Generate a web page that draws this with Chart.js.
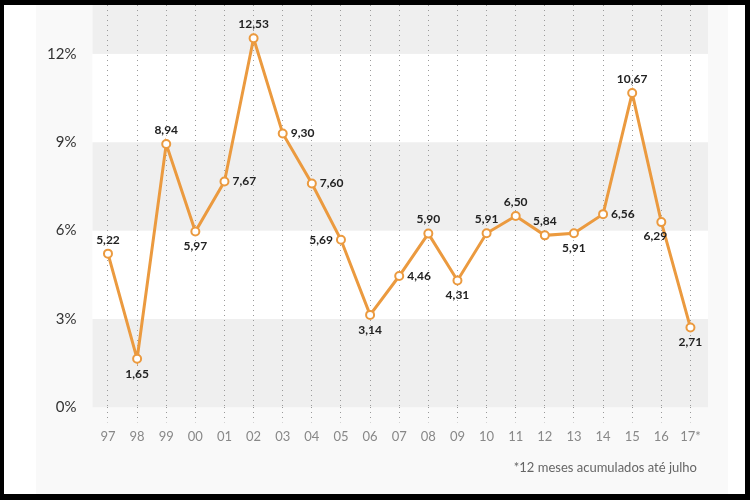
<!DOCTYPE html>
<html>
<head>
<meta charset="utf-8">
<script src="https://cdn.jsdelivr.net/npm/chart.js@4/dist/chart.umd.min.js"></script>
<style>
  body { margin: 0; background: #000; width: 750px; height: 500px; overflow: hidden; }
  #frame {
    position: absolute; left: 4px; top: 5px; width: 741px; height: 489px;
    background: linear-gradient(to right, #fff 0, #fff 32px, #f9f9f9 32px, #f9f9f9 724px, #fff 724px);
  }
  #myChart { position: absolute; left: 0; top: 0; }
  #note {
    position: absolute; right: 48px; top: 454px;
    font-family: Lato, sans-serif; font-size: 13px; color: #666;
  }
</style>
</head>
<body>
<div id="frame">
  <canvas id="myChart" width="741" height="489"></canvas>
  <div id="note">*12 meses acumulados até julho</div>
</div>
<script>
// anos (eixo x)
const years = ['97','98','99','00','01','02','03','04','05','06','07','08','09','10','11','12','13','14','15','16','17*']
// inflação anual, %
const ipca = [5.22,1.65,8.94,5.97,7.67,12.53,9.30,7.60,5.69,3.14,4.46,5.90,4.31,5.91,6.50,5.84,5.91,6.56,10.67,6.29,2.71]
// ticks do eixo y
const yTicks = [0,3,6,9,12]
// onde cada rotulo fica em relacao ao ponto
const labelPos = ['top','bottom','top','bottom','right','top','right','right','left','bottom','right','top','bottom','top','top','top','bottom','right','top','bottomleft','bottom']

const orange = '#eb9a3f'

// faixas cinzas alternadas (0-3, 6-9, 12-topo)
const bandsPlugin = {
    id: 'bands',
    beforeDraw(chart) {
        const {ctx, chartArea, scales} = chart
        const y = scales.y
        const left = chartArea.left - 1
        const w = chartArea.right + 3 - left
        ctx.save()
        ctx.fillStyle = '#ffffff'
        ctx.fillRect(left, chartArea.top, w, chartArea.bottom - chartArea.top)
        ctx.fillStyle = '#efefef'
        for (let i = 0; i < yTicks.length; i += 2) {
            const lo = yTicks[i]
            const hi = i + 1 < yTicks.length ? yTicks[i + 1] : y.max
            const top = y.getPixelForValue(hi)
            const bot = y.getPixelForValue(lo)
            ctx.fillRect(left, top, w, bot - top)
        }
        ctx.restore()
    }
}

// rotulos de valor com virgula decimal
const labelsPlugin = {
    id: 'valueLabels',
    afterDatasetsDraw(chart) {
        const {ctx} = chart
        const meta = chart.getDatasetMeta(0)
        ctx.save()
        ctx.font = 'bold 12px Lato, sans-serif'
        ctx.fillStyle = '#222'
        ctx.textBaseline = 'middle'
        meta.data.forEach((pt, i) => {
            const txt = ipca[i].toFixed(2).replace('.', ',')
            const pos = labelPos[i]
            let x = pt.x, yy = pt.y
            ctx.textAlign = 'center'
            if (pos === 'top') yy -= 14
            else if (pos === 'bottom') yy += 15
            else if (pos === 'right') { x += 8; ctx.textAlign = 'left' }
            else if (pos === 'left') { x -= 8; ctx.textAlign = 'right' }
            else if (pos === 'bottomleft') { x -= 6; yy += 14 }
            ctx.fillText(txt, x, yy)
        })
        ctx.restore()
    }
}

const ctx = document.getElementById('myChart').getContext('2d')
const myChart = new Chart(ctx, {
    type: 'line',
    data: {
        labels: years,
        datasets: [{
            data: ipca,
            borderColor: orange,
            borderWidth: 3,
            pointRadius: 4,
            pointBorderWidth: 2,
            pointBackgroundColor: '#fff',
            pointBorderColor: orange,
            tension: 0
        }]
    },
    options: {
        responsive: false,
        animation: false,
        devicePixelRatio: 1,
        layout: { autoPadding: false, padding: { left: 26, right: 40, top: 0, bottom: 42 } },
        plugins: { legend: { display: false }, tooltip: { enabled: false } },
        scales: {
            x: {
                offset: true,
                border: { display: false, dash: [1, 4] },
                grid: {
                    offset: false,
                    color: '#9a9a9a',
                    tickColor: '#9a9a9a',
                    tickBorderDash: [1, 4],
                    tickLength: 15,
                    lineWidth: 1
                },
                ticks: {
                    autoSkip: false,
                    maxRotation: 0,
                    padding: 7,
                    color: '#888',
                    font: { family: 'Lato', size: 13 }
                }
            },
            y: {
                min: 0,
                max: 13.66,
                border: { display: false },
                grid: { display: false, drawTicks: false },
                afterFit(scale) {
                    scale.paddingTop = 0
                    scale.paddingBottom = 0
                },
                afterBuildTicks(scale) { scale.ticks = yTicks.map(v => ({value: v})) },
                ticks: {
                    padding: 17,
                    color: '#333',
                    font: { family: 'Lato', size: 15 },
                    callback: v => v + '%'
                }
            }
        }
    },
    plugins: [bandsPlugin, labelsPlugin]
})
</script>
</body>
</html>
